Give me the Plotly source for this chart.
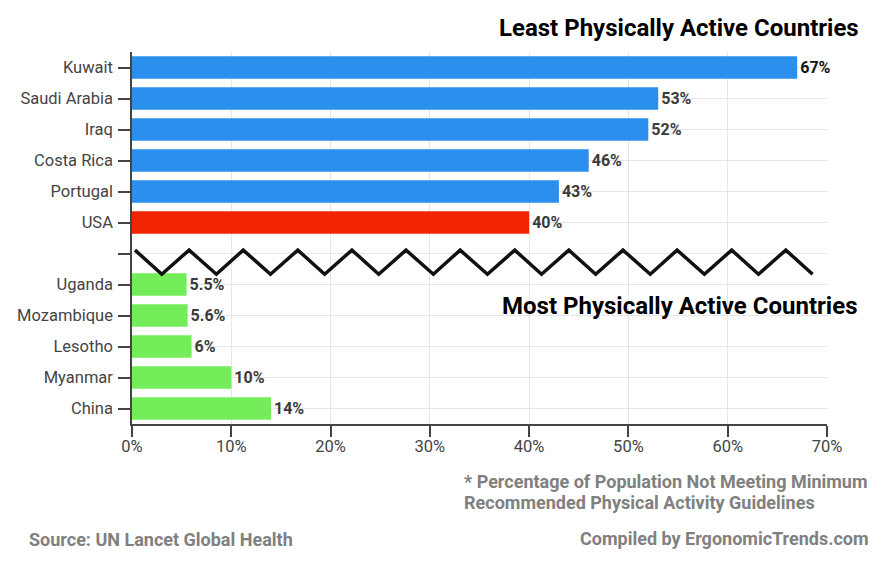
import plotly.graph_objects as go

countries = ["Kuwait", "Saudi Arabia", "Iraq", "Costa Rica", "Portugal", "USA", " ",
             "Uganda", "Mozambique", "Lesotho", "Myanmar", "China"]
values = [67, 53, 52, 46, 43, 40, None, 5.5, 5.6, 6, 10, 14]
labels = ["67%", "53%", "52%", "46%", "43%", "40%", "", "5.5%", "5.6%", "6%", "10%", "14%"]
bar_colors = ["#2b90ed"] * 5 + ["#f02500", "#ffffff"] + ["#73ee5a"] * 5
label_colors = ["#111111"] + ["#3a3a3a"] * 11
positions = list(range(len(countries)))

# axis break marker
break_x = [0.3, 3.0, 5.75, 8.5, 11.2, 13.95, 16.7, 19.4, 22.15, 24.85, 27.6, 30.35, 33.05,
           35.8, 38.55, 41.25, 44.0, 46.7, 49.45, 52.2, 54.9, 57.65, 60.4, 63.1, 65.85, 68.55]
break_y = [5.89, 6.67] * 13

fig = go.Figure()
fig.add_trace(go.Bar(x=values, y=positions, orientation="h", width=0.72,
                     marker=dict(color=bar_colors, line=dict(width=0)),
                     text=labels, textposition="outside", cliponaxis=False,
                     textfont=dict(family="Roboto", size=16, color=label_colors, weight="bold")))
fig.add_trace(go.Scatter(x=break_x, y=break_y, mode="lines",
                         line=dict(color="#111111", width=3.5)))

note_font = dict(family="Roboto", size=18, color="#808080", weight="bold")
title_font = dict(family="Roboto", size=24, color="#000000", weight="bold")


def pixel_note(text, x, y, anchor, font):
    # positions are in page pixels, converted to paper coords of the plot area
    fig.add_annotation(text=text, xref="paper", yref="paper", showarrow=False,
                       x=(x - 132) / 695, y=(424 - y) / 372, xanchor=anchor, yanchor="middle",
                       align="left", font=font)


pixel_note("Least Physically Active Countries", 861, 28, "right", title_font)
pixel_note("Most Physically Active Countries", 858.5, 306, "right", title_font)
pixel_note("* Percentage of Population Not Meeting Minimum", 462, 481, "left", note_font)
pixel_note("Recommended Physical Activity Guidelines", 462, 502, "left", note_font)
pixel_note("Source: UN Lancet Global Health", 27, 539, "left", note_font)
pixel_note("Compiled by ErgonomicTrends.com", 871, 538, "right", note_font)

fig.update_layout(width=886, height=566, showlegend=False, paper_bgcolor="white",
                  plot_bgcolor="white", margin=dict(l=132, r=59, t=52, b=142),
                  font=dict(family="Roboto", size=16.5, color="#444444"))
fig.update_xaxes(range=[0, 70], tickvals=[0, 10, 20, 30, 40, 50, 60, 70],
                 ticktext=["0%", "10%", "20%", "30%", "40%", "50%", "60%", "70%"],
                 ticks="outside", ticklen=11, tickcolor="#444444", tickwidth=1.5,
                 ticklabelstandoff=-5,
                 showline=True, linecolor="#444444", linewidth=1.5,
                 showgrid=True, gridcolor="#e6e6e6", gridwidth=1, zeroline=False)
fig.update_yaxes(range=[11.5, -0.5], tickvals=positions, ticktext=countries,
                 ticks="outside", ticklen=12, tickcolor="#444444", tickwidth=1.5,
                 ticklabelstandoff=2,
                 showline=True, linecolor="#444444", linewidth=1.5,
                 showgrid=True, gridcolor="#e6e6e6", gridwidth=1, zeroline=False)

# default page has an 8px body margin, drop it so the chart fills the window
fig.write_html("out.html", config={"displayModeBar": False},
               post_script="document.body.style.margin = '0';")
